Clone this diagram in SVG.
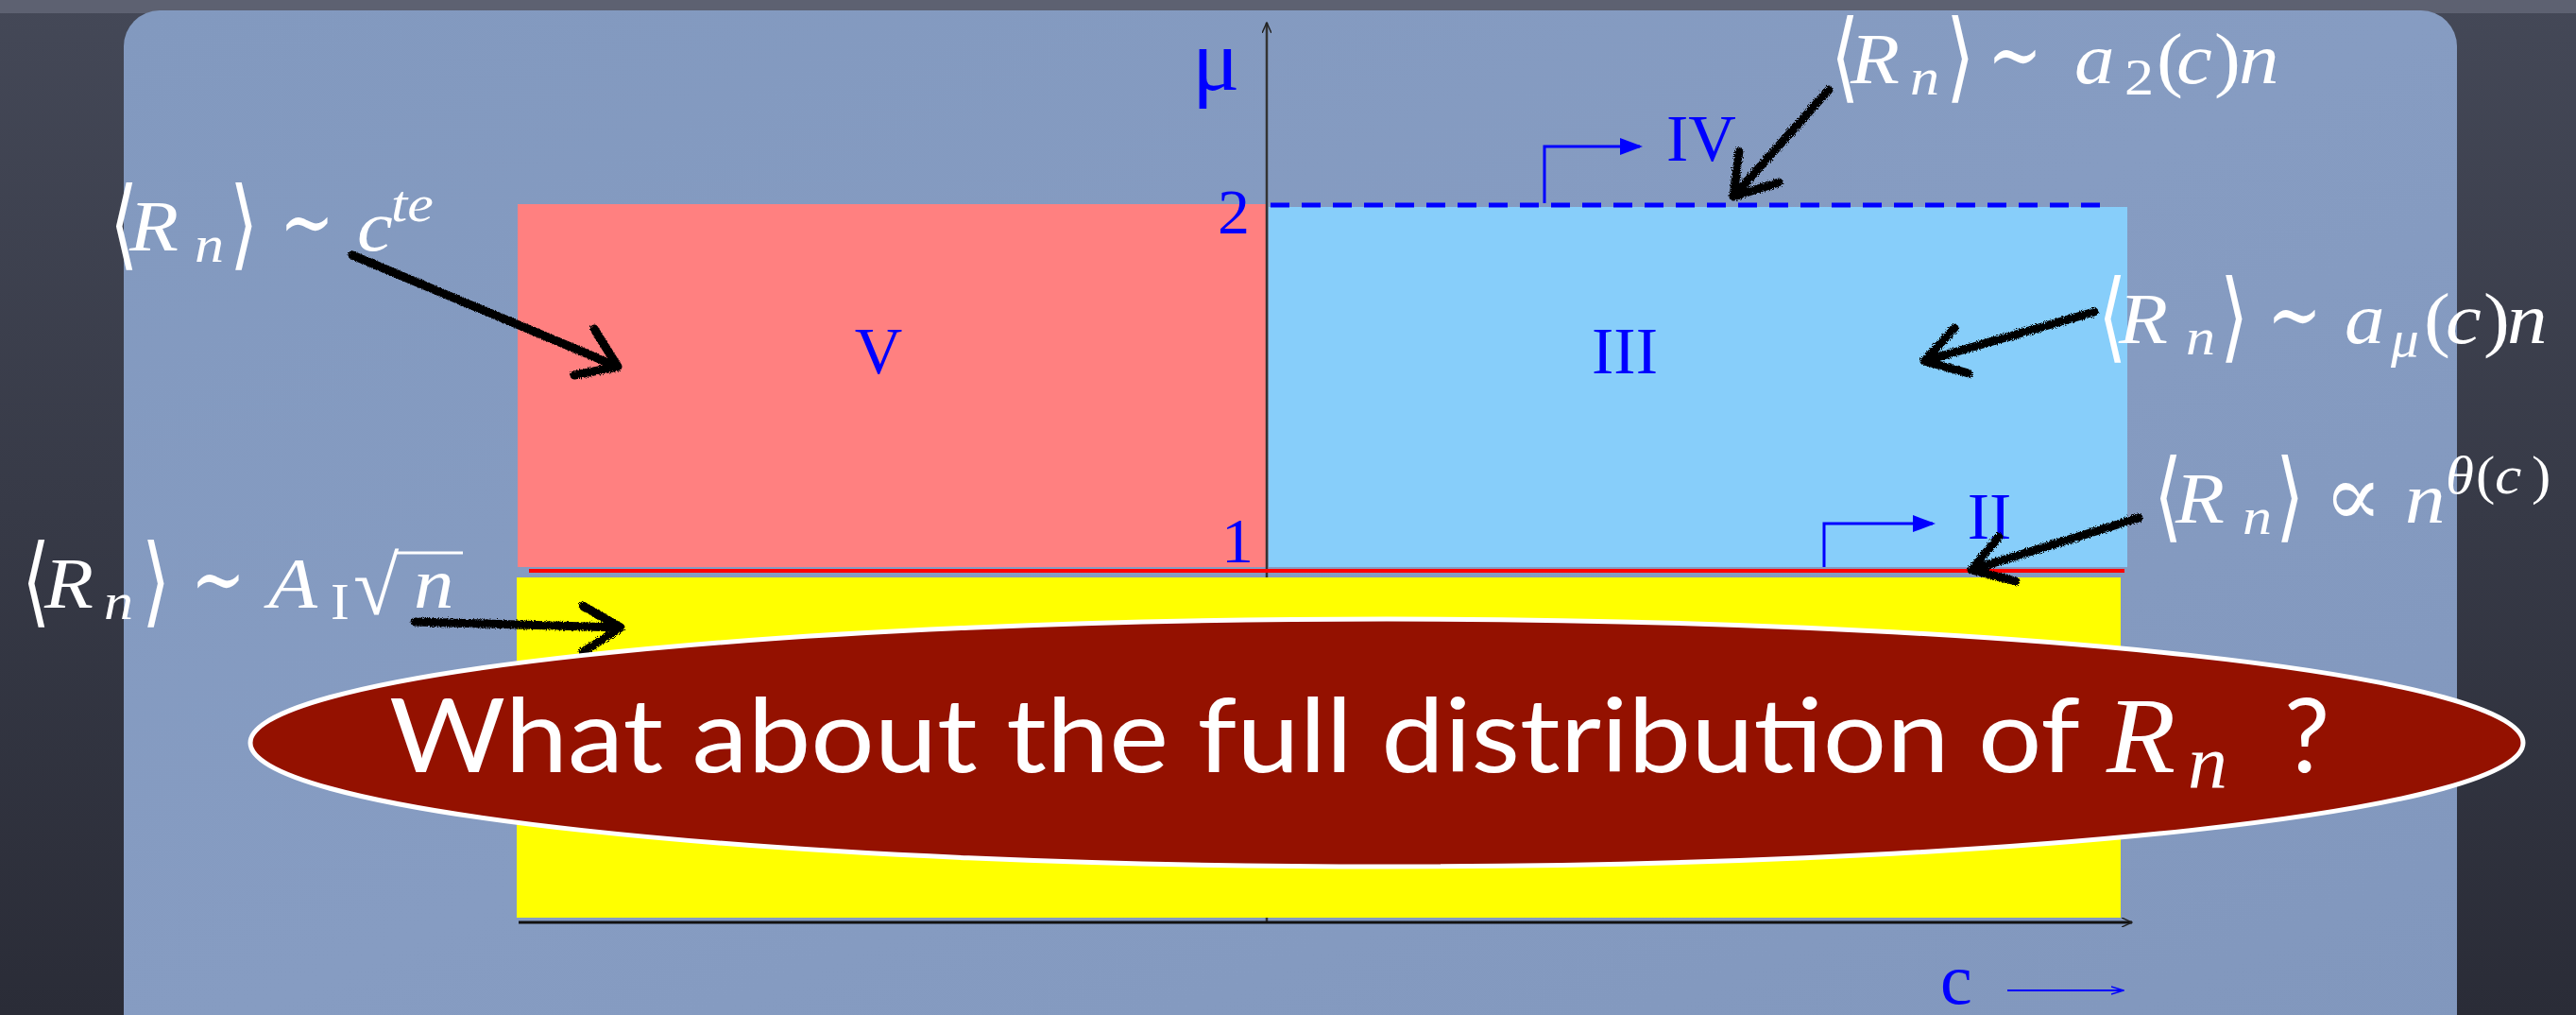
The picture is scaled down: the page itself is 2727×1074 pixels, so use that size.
<svg xmlns="http://www.w3.org/2000/svg" width="2727" height="1074" viewBox="0 0 2727 1074">
<defs>
<linearGradient id="bgOut" x1="0" y1="0" x2="0" y2="1">
<stop offset="0" stop-color="#444857"/><stop offset="1" stop-color="#2a2c37"/>
</linearGradient>
<linearGradient id="panel" x1="0" y1="0" x2="1" y2="1">
<stop offset="0" stop-color="#8299bf"/><stop offset="0.5" stop-color="#869cc2"/><stop offset="1" stop-color="#8197bd"/>
</linearGradient>
<filter id="rough" x="-10%" y="-10%" width="120%" height="120%">
<feTurbulence type="fractalNoise" baseFrequency="0.9" numOctaves="2" result="n"/>
<feDisplacementMap in="SourceGraphic" in2="n" scale="5"/>
</filter>
<marker id="blueHead" markerWidth="8" markerHeight="6" refX="7" refY="3" orient="auto" markerUnits="strokeWidth">
<path d="M0,0 L8,3 L0,6 Z" fill="#0000ff"/>
</marker>
<marker id="openHead" markerWidth="12" markerHeight="10" refX="11" refY="5" orient="auto" markerUnits="userSpaceOnUse">
<path d="M0,0 L11,5 L0,10" fill="none" stroke="#222" stroke-width="1.5"/>
</marker>
<marker id="openHeadBlue" markerWidth="14" markerHeight="10" refX="13" refY="5" orient="auto" markerUnits="userSpaceOnUse">
<path d="M0,1 L13,5 L0,9" fill="none" stroke="#0000ff" stroke-width="1.5"/>
</marker>
</defs>
<style>
.lbl{font-family:"Liberation Serif","Times New Roman",serif;fill:#0000ff;}
.m{font-family:"Liberation Serif","DejaVu Serif",serif;fill:#ffffff;font-size:76px;}
.it{font-style:italic;}
.s{font-size:54px;}
.sup{font-size:58px;}
.big{font-size:114px;}
.sbig{font-size:80px;}
.rad{font-size:88px;}
.op{font-family:"DejaVu Serif","DejaVu Sans",serif;fill:#ffffff;font-size:92px;}
.br{font-family:"DejaVu Sans","Liberation Serif",sans-serif;font-weight:200;fill:#ffffff;font-size:104px;}
.brush{fill:none;stroke:#000;stroke-width:9;stroke-linecap:round;stroke-linejoin:round;filter:url(#rough);}
.q{font-family:"Lato","Open Sans",sans-serif;fill:#ffffff;font-size:108px;}
</style>

<!-- background -->
<rect x="0" y="0" width="2727" height="1074" fill="url(#bgOut)"/>
<rect x="0" y="0" width="2727" height="14" fill="#5d6171"/>
<rect x="131" y="11" width="2470" height="1120" rx="38" fill="url(#panel)"/>

<g id="region-V">
<rect x="548" y="216" width="792" height="384" fill="#ff8080"/>
<text class="lbl" x="930" y="395" font-size="70" text-anchor="middle">V</text>
</g>
<g id="region-III">
<rect x="1343" y="219" width="909" height="381" fill="#87cefa"/>
<text class="lbl" x="1720" y="395" font-size="70" text-anchor="middle">III</text>
</g>
<g id="axes">
<line x1="1341" y1="976" x2="1341" y2="24" stroke="#333" stroke-width="2.5" marker-end="url(#openHead)"/>
<line x1="549" y1="976" x2="2257" y2="976" stroke="#111" stroke-width="3" marker-end="url(#openHead)"/>
<text class="lbl" x="1262" y="95" font-size="94">μ</text>
<text class="lbl" x="1323" y="247" font-size="68" text-anchor="end">2</text>
<text class="lbl" x="1327" y="595" font-size="68" text-anchor="end">1</text>
<text class="lbl" x="2054" y="1062" font-size="76">c</text>
<line x1="2125" y1="1048" x2="2248" y2="1048" stroke="#0000ff" stroke-width="2" marker-end="url(#openHeadBlue)"/>
</g>
<g id="region-I">
<rect x="547" y="611" width="1698" height="360" fill="#ffff00"/>
</g>
<g id="line-II">
<line x1="560" y1="604" x2="2249" y2="604" stroke="#ff0000" stroke-width="4"/>
<path d="M1931,600 V554 H2046" fill="none" stroke="#0000ff" stroke-width="3" marker-end="url(#blueHead)"/>
<text class="lbl" x="2106" y="570" font-size="70" text-anchor="middle">II</text>
</g>
<g id="line-IV">
<line x1="1345" y1="217" x2="2223" y2="217" stroke="#0000ff" stroke-width="5" stroke-dasharray="20 13"/>
<path d="M1635,215 V155 H1736" fill="none" stroke="#0000ff" stroke-width="3" marker-end="url(#blueHead)"/>
<text class="lbl" x="1764" y="170" font-size="70">IV</text>
</g>

<!-- annotation labels -->
<g id="label-V">
<text class="br" transform="translate(116,272) scale(0.75,1)">⟨</text>
<text class="m it" transform="translate(137,265) scale(1.12,1)">R</text>
<text class="m it s" transform="translate(206,277) scale(1.15,1)">n</text>
<text class="br" transform="translate(243,272) scale(0.75,1)">⟩</text>
<text class="op" transform="translate(296,266) scale(0.75,1)">∼</text>
<text class="m it" transform="translate(378,265) scale(1.12,1)">c</text>
<text class="m it s" transform="translate(414,234) scale(1.15,1)">te</text>
</g>
<g id="label-IV">
<text class="br" transform="translate(1938,95) scale(0.75,1)">⟨</text>
<text class="m it" transform="translate(1959,88) scale(1.12,1)">R</text>
<text class="m it s" transform="translate(2022,100) scale(1.15,1)">n</text>
<text class="br" transform="translate(2060,95) scale(0.75,1)">⟩</text>
<text class="op" transform="translate(2104,89) scale(0.75,1)">∼</text>
<text class="m it" transform="translate(2196,88) scale(1.12,1)">a</text>
<text class="m s" transform="translate(2249,100) scale(1.15,1)">2</text>
<text class="m" transform="translate(2283,88) scale(1.1,1)">(</text>
<text class="m it" transform="translate(2304,88) scale(1.12,1)">c</text>
<text class="m" transform="translate(2344,88) scale(1.1,1)">)</text>
<text class="m it" transform="translate(2370,88) scale(1.12,1)">n</text>
</g>
<g id="label-III">
<text class="br" transform="translate(2221,370) scale(0.75,1)">⟨</text>
<text class="m it" transform="translate(2243,363) scale(1.12,1)">R</text>
<text class="m it s" transform="translate(2314,375) scale(1.15,1)">n</text>
<text class="br" transform="translate(2350,370) scale(0.75,1)">⟩</text>
<text class="op" transform="translate(2400,364) scale(0.75,1)">∼</text>
<text class="m it" transform="translate(2482,363) scale(1.12,1)">a</text>
<text class="m it s" transform="translate(2531,377) scale(1.1,1)">μ</text>
<text class="m" transform="translate(2566,363) scale(1.1,1)">(</text>
<text class="m it" transform="translate(2589,363) scale(1.12,1)">c</text>
<text class="m" transform="translate(2629,363) scale(1.1,1)">)</text>
<text class="m it" transform="translate(2654,363) scale(1.12,1)">n</text>
</g>
<g id="label-II">
<text class="br" transform="translate(2280,560) scale(0.75,1)">⟨</text>
<text class="m it" transform="translate(2303,553) scale(1.12,1)">R</text>
<text class="m it s" transform="translate(2374,565) scale(1.15,1)">n</text>
<text class="br" transform="translate(2409,560) scale(0.75,1)">⟩</text>
<text class="op" transform="translate(2460,556)">∝</text>
<text class="m it" transform="translate(2546,553) scale(1.12,1)">n</text>
<text class="m it sup" transform="translate(2589,522) scale(1.05,1)">θ</text>
<text class="m sup" transform="translate(2621,522) scale(1.05,1)">(</text>
<text class="m it sup" transform="translate(2641,522) scale(1.1,1)">c</text>
<text class="m sup" transform="translate(2680,522) scale(1.05,1)">)</text>
</g>
<g id="label-I">
<text class="br" transform="translate(23,650) scale(0.75,1)">⟨</text>
<text class="m it" transform="translate(47,643) scale(1.12,1)">R</text>
<text class="m it s" transform="translate(110,655) scale(1.15,1)">n</text>
<text class="br" transform="translate(150,650) scale(0.75,1)">⟩</text>
<text class="op" transform="translate(202,644) scale(0.75,1)">∼</text>
<text class="m it" transform="translate(284,643) scale(1.12,1)">A</text>
<text class="m s" transform="translate(350,655) scale(1.1,1)">I</text>
<text class="m rad" transform="translate(374,650)">√</text>
<text class="m it" transform="translate(438,643) scale(1.12,1)">n</text>
<line x1="418" y1="585" x2="490" y2="585" stroke="#ffffff" stroke-width="3"/>
</g>

<g id="connectors">
<path class="brush" d="M373,270 L654,388 M629,348 L654,388 L608,397"/>
<path class="brush" d="M1936,95 L1835,208 M1841,160 L1835,208 L1883,193"/>
<path class="brush" d="M2217,330 L2037,382 M2069,347 L2037,382 L2084,395"/>
<path class="brush" d="M2264,548 L2087,603 M2116,568 L2087,603 L2134,615"/>
<path class="brush" d="M439,658 L657,664 M617,641 L657,664 L617,690"/>
</g>

<g id="question">
<ellipse cx="1468" cy="786" rx="1203" ry="131" fill="#941100" stroke="#ffffff" stroke-width="5"/>
<text class="q" x="412" y="817" textLength="1790" lengthAdjust="spacingAndGlyphs">What about the full distribution of</text>
<text class="m it big" transform="translate(2230,817) scale(1.05,1)">R</text>
<text class="m it sbig" transform="translate(2316,833) scale(1.05,1)">n</text>
<text class="q" x="2418" y="817">?</text>
</g>
</svg>
